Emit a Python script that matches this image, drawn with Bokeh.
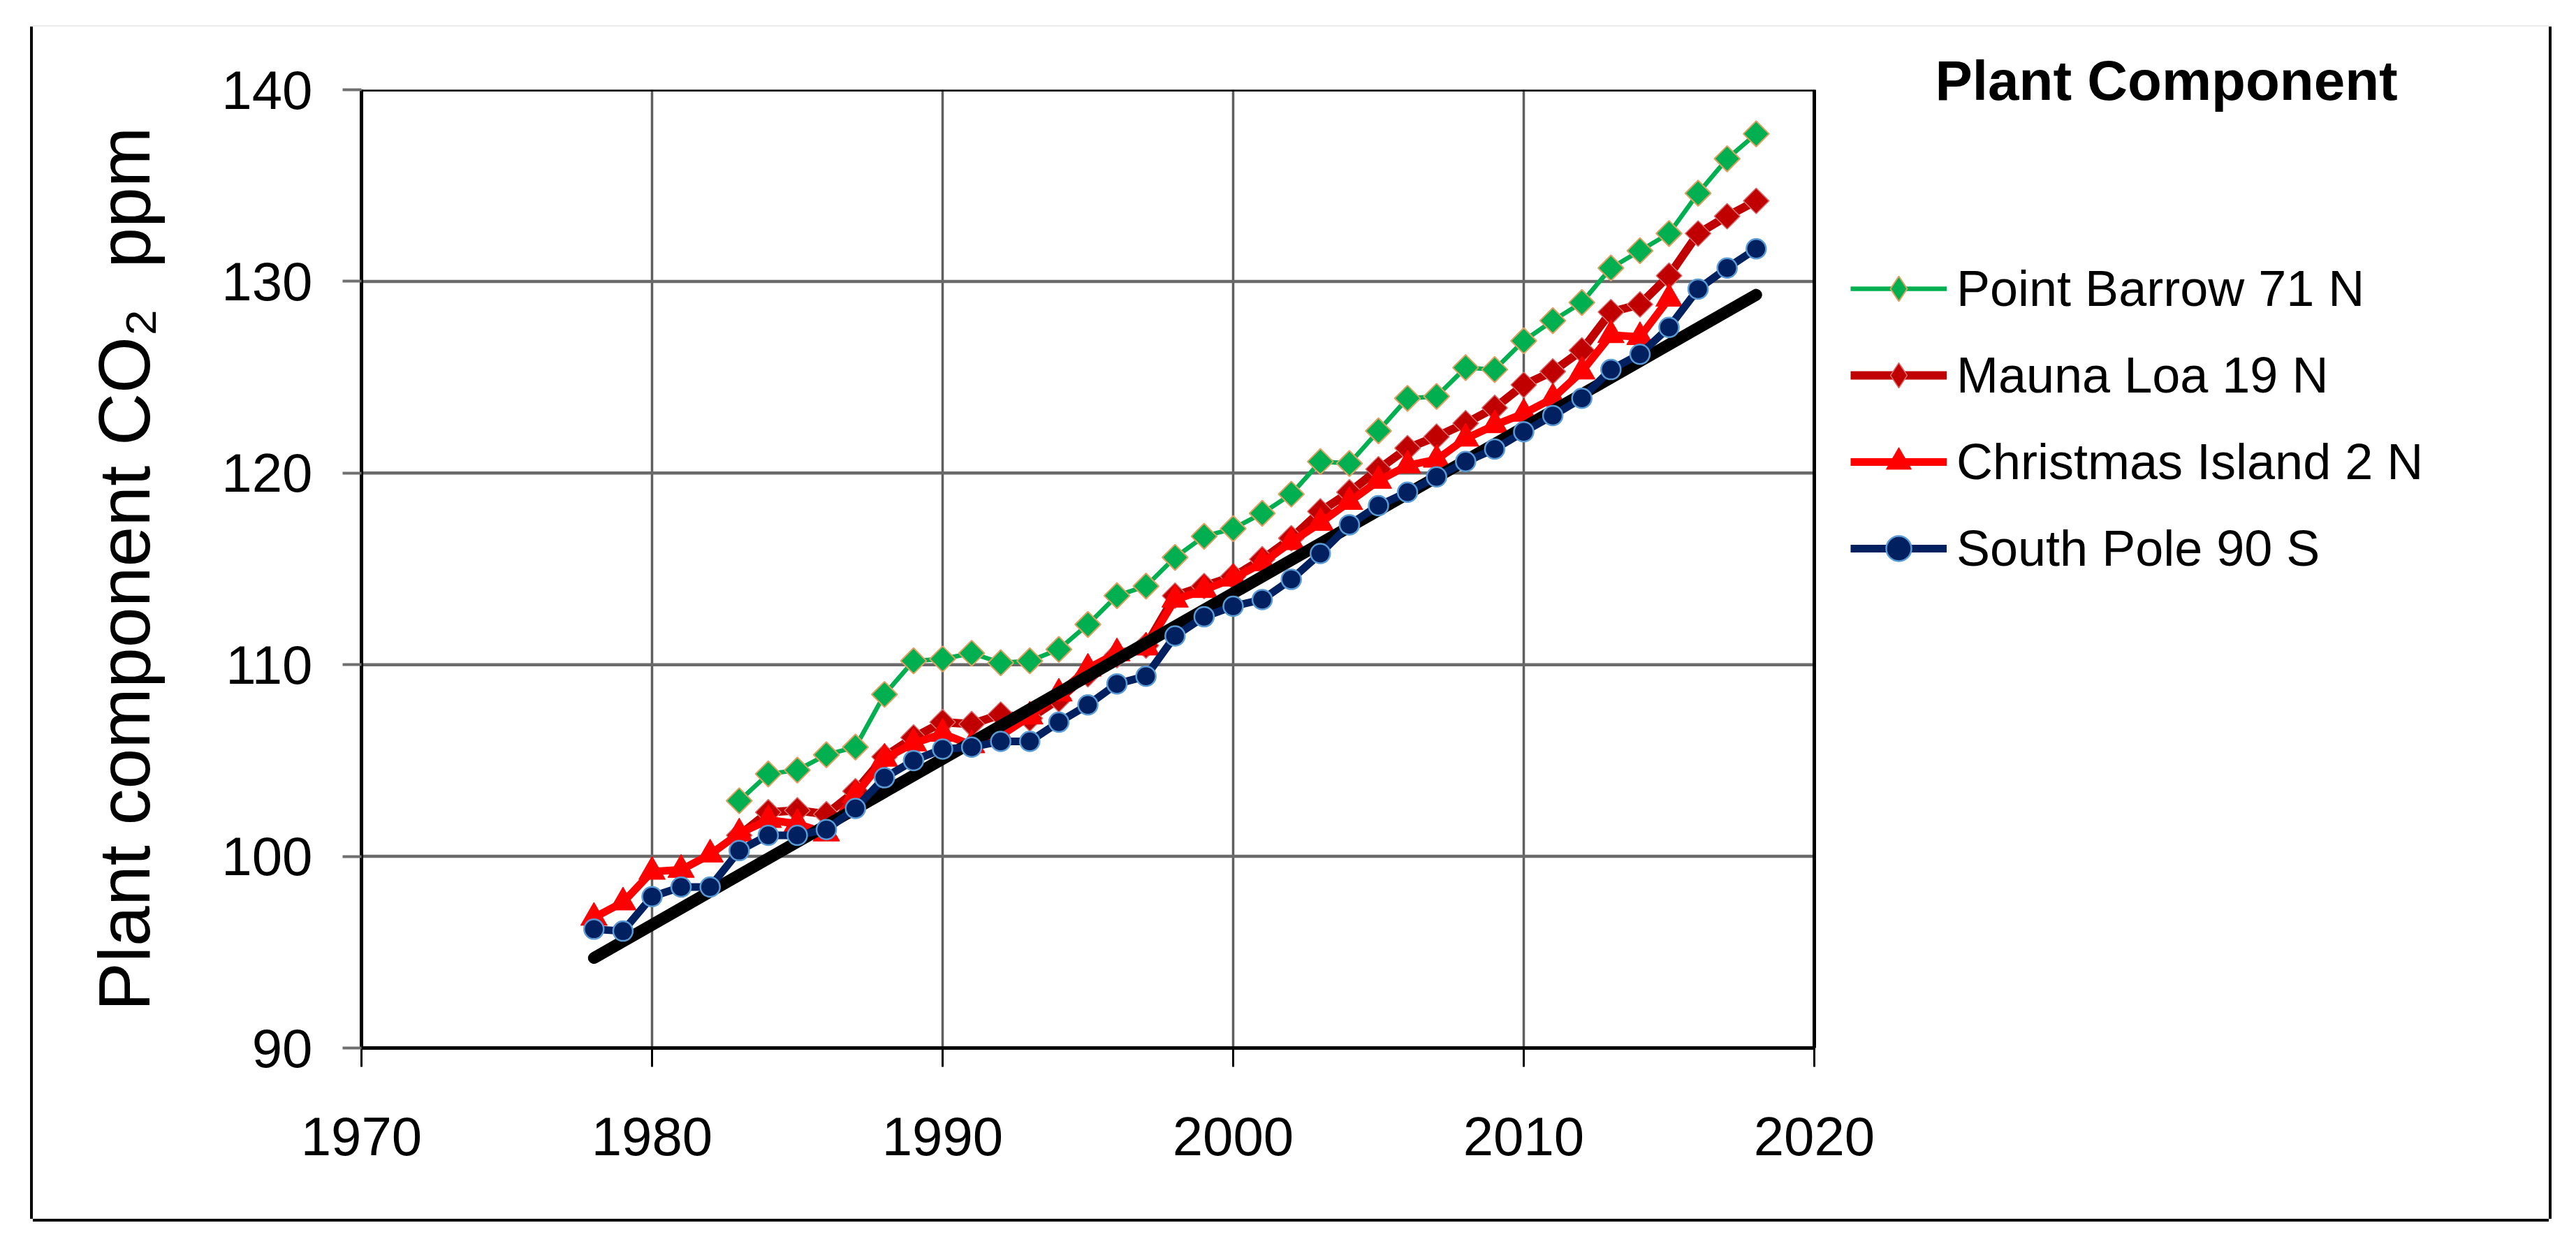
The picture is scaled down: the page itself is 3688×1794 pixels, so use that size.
import math
from bokeh.plotting import figure
from bokeh.models import Legend, LegendItem, Title, FixedTicker, Range1d
from bokeh.embed import file_html
from bokeh.resources import INLINE

# ---------------- data ----------------
x_ticks = [1970, 1980, 1990, 2000, 2010, 2020]
y_ticks = [90, 100, 110, 120, 130, 140]

years_point_barrow = list(range(1983, 2019))
point_barrow = [102.9, 104.3, 104.5, 105.3, 105.7, 108.45, 110.2, 110.3, 110.6, 110.1,
                110.2, 110.8, 112.1, 113.6, 114.1, 115.6, 116.7, 117.1, 117.9, 118.9,
                120.6, 120.5, 122.2, 123.9, 124.0, 125.5, 125.4, 126.9, 127.95, 128.9,
                130.7, 131.6, 132.5, 134.6, 136.4, 137.7]

years_mauna_loa = list(range(1983, 2019))
mauna_loa = [101.1, 102.3, 102.4, 102.2, 103.4, 105.2, 106.2, 107.0, 106.9, 107.4,
             107.2, 108.2, 109.5, 110.5, 111.0, 113.6, 114.1, 114.6, 115.5, 116.6,
             118.0, 119.0, 120.2, 121.3, 121.9, 122.6, 123.4, 124.6, 125.3, 126.4,
             128.4, 128.8, 130.3, 132.5, 133.4, 134.2]

years_christmas = list(range(1978, 2016))
christmas_island = [96.8, 97.6, 99.2, 99.3, 100.1, 101.2, 101.9, 101.7, 101.2, 103.2,
                    105.1, 105.9, 106.4, 105.8, 106.3, 107.3, 108.5, 109.8, 110.6, 110.9,
                    113.4, 113.9, 114.5, 115.3, 116.4, 117.4, 118.5, 119.6, 120.4, 120.7,
                    121.8, 122.5, 123.1, 123.9, 125.3, 127.2, 127.1, 129.1]

years_south_pole = list(range(1978, 2019))
south_pole = [96.2, 96.1, 97.9, 98.4, 98.4, 100.3, 101.1, 101.1, 101.4, 102.5,
              104.1, 105.0, 105.6, 105.7, 106.0, 106.0, 107.0, 107.9, 109.0, 109.4,
              111.5, 112.5, 113.05, 113.4, 114.45, 115.8, 117.3, 118.3, 119.0, 119.8,
              120.6, 121.25, 122.15, 123.0, 123.9, 125.4, 126.2, 127.6, 129.6, 130.7,
              131.7]

trend_years = [1978, 2018]
trend_values = [94.7, 129.3]

legend_title = "Plant Component"
series_labels = ["Point Barrow 71 N", "Mauna Loa 19 N", "Christmas Island 2 N", "South Pole 90 S"]
y_title = "Plant component CO\u2082\u00a0\u00a0ppm"

# ---------------- layout (pixels) ----------------
BOX_L, BOX_T, BOX_R, BOX_B = 47, 38, 3649, 1745      # outer chart box on the page
PLOT_L, PLOT_T, PLOT_R, PLOT_B = 517, 128, 2597, 1500  # plotting rectangle on the page
PAGE_OFF = 0

X0, X1 = x_ticks[0], x_ticks[-1]
Y0, Y1 = y_ticks[0], y_ticks[-1]
XPX = (PLOT_R - PLOT_L) / (X1 - X0)
YPX = (PLOT_B - PLOT_T) / (Y1 - Y0)

FW = BOX_R - PLOT_L           # frame reaches the right edge of the box (room for legend)
FH = PLOT_B - PLOT_T
BL = PLOT_L - BOX_L
BT = PLOT_T - BOX_T
BB = (BOX_B - BOX_T) - BT - FH


def px_to_x(px):
    return X0 + (px - PLOT_L) / XPX


FONT = "Liberation Sans"

p = figure(frame_width=FW, frame_height=FH,
           x_range=Range1d(X0, px_to_x(BOX_R)), y_range=Range1d(Y0, Y1),
           min_border_left=BL, min_border_right=0, min_border_top=BT, min_border_bottom=BB,
           output_backend="svg", toolbar_location=None,
           background_fill_color="white", border_fill_color="white",
           margin=(BOX_T - PAGE_OFF, 0, 0, BOX_L - PAGE_OFF),
           styles={"box-shadow": "-4px 0 0 0 #000000, 4px 0 0 0 #000000, "
                                 "0 4px 0 0 #000000, 0 -2px 0 0 #ececec"})

p.outline_line_color = None

p.xaxis.ticker = FixedTicker(ticks=x_ticks)
p.yaxis.ticker = FixedTicker(ticks=y_ticks)
p.xaxis.bounds = (X0, X1)
for ax in (p.xaxis[0], p.yaxis[0]):
    ax.major_label_text_font = FONT
    ax.major_label_text_font_size = "78px"
    ax.major_label_text_color = "black"
    ax.minor_tick_line_color = None
    ax.major_tick_in = 0
    ax.major_tick_out = 27
    ax.axis_line_color = "black"
    ax.axis_line_width = 5

p.xaxis.major_tick_line_color = "black"
p.xaxis.major_tick_line_width = 3
p.xaxis.major_label_standoff = 72
p.yaxis.major_tick_line_color = "#6f6f6f"
p.yaxis.major_tick_line_width = 4
p.yaxis.major_label_standoff = 43

p.yaxis.axis_label = y_title
p.yaxis.axis_label_text_font = FONT
p.yaxis.axis_label_text_font_size = "104px"
p.yaxis.axis_label_text_font_style = "normal"
p.yaxis.axis_label_text_color = "black"
p.yaxis.axis_label_standoff = 78

# vertical grid lines via the grid; horizontal ones as segments limited to the plot
p.xgrid.grid_line_color = "#5f5f5f"
p.xgrid.grid_line_width = 3.5
p.ygrid.grid_line_color = None

n_y = len(y_ticks)
p.segment(x0=[X0] * n_y, x1=[X1] * n_y, y0=y_ticks, y1=y_ticks,
          line_color="#6a6a6a", line_width=4.5)
p.quad(left=[X0], right=[X1], bottom=[Y0], top=[Y1], fill_alpha=0,
       line_color="black", line_width=5)

rot = math.pi / 4

pb_line = p.line(years_point_barrow, point_barrow, line_color="#00B050", line_width=6.5)
p.scatter(years_point_barrow, point_barrow, marker="square", size=26, angle=rot,
          fill_color="#00B050", line_color="#E0A060", line_width=2)

ml_line = p.line(years_mauna_loa, mauna_loa, line_color="#C00000", line_width=12)
p.scatter(years_mauna_loa, mauna_loa, marker="square", size=26, angle=rot,
          fill_color="#C00000", line_color="#D87070", line_width=1.5)

ci_line = p.line(years_christmas, christmas_island, line_color="#FF0000", line_width=11)
ci_mk = p.scatter(years_christmas, christmas_island, marker="triangle", size=38,
                  fill_color="#FF0000", line_color="#FF0000", line_width=1)

p.line(trend_years, trend_values, line_color="black", line_width=17, line_cap="round")

sp_line = p.line(years_south_pole, south_pole, line_color="#002060", line_width=11)
sp_mk = p.scatter(years_south_pole, south_pole, marker="circle", size=28,
                  fill_color="#002060", line_color="#5B9BD5", line_width=2.5)

# legend-only diamond keys (NaN position: nothing is drawn inside the plot)
nan = float("nan")
pb_key = p.scatter([nan], [nan], marker="diamond", fill_color="#00B050", line_color="#E0A060",
                   line_width=2)
ml_key = p.scatter([nan], [nan], marker="diamond", fill_color="#C00000", line_color="#D87070",
                   line_width=1.5)

ROW = 124
n_items = len(series_labels)
legend_top = 351
legend = Legend(items=[
    LegendItem(label=series_labels[0], renderers=[pb_line, pb_key]),
    LegendItem(label=series_labels[1], renderers=[ml_line, ml_key]),
    LegendItem(label=series_labels[2], renderers=[ci_line, ci_mk]),
    LegendItem(label=series_labels[3], renderers=[sp_line, sp_mk]),
], location=(2649 - PLOT_L, PLOT_B - legend_top - ROW * n_items), orientation="vertical",
    label_text_font=FONT, label_text_font_size="72px", label_text_color="black",
    glyph_width=138, glyph_height=90, label_height=ROW, spacing=0, padding=0, margin=0,
    label_standoff=14, border_line_color=None, background_fill_alpha=0)
p.add_layout(legend, "center")

p.add_layout(Title(text=legend_title, align="left", offset=2770 - PLOT_L,
                   vertical_align="bottom", standoff=-62, text_font=FONT,
                   text_font_style="bold", text_font_size="80px", text_color="black"),
             "above")

open("out.html", "w").write(file_html(p, INLINE))
